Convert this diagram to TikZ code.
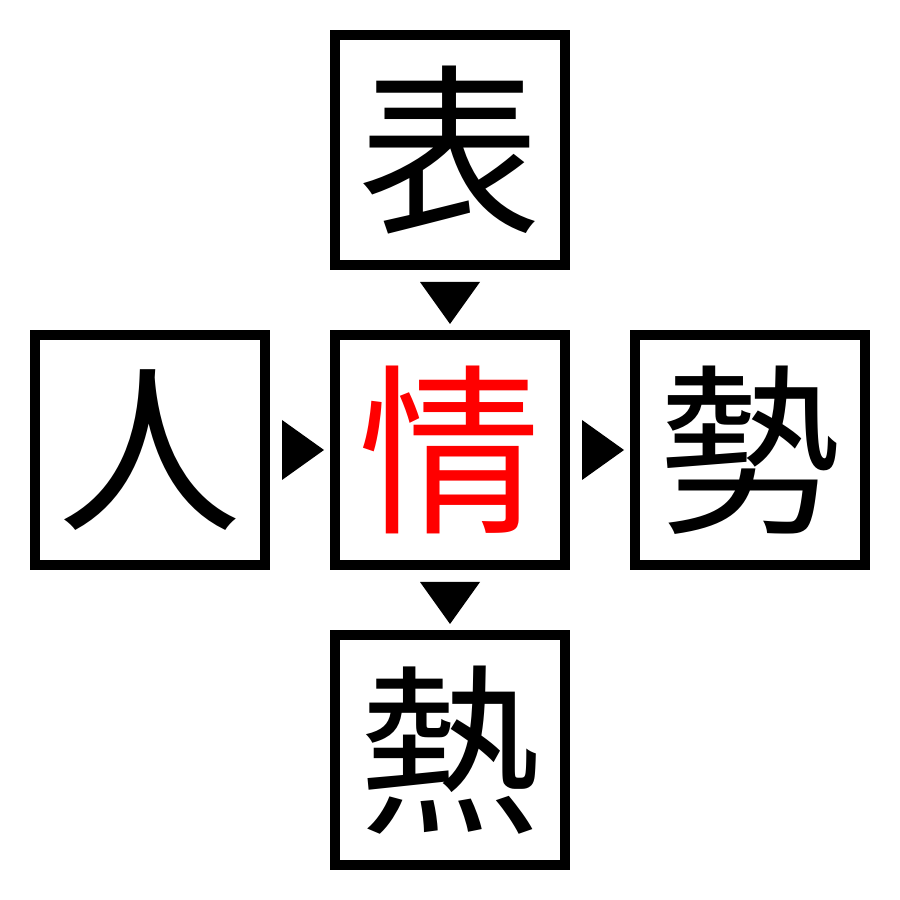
\documentclass[tikz,border=0pt]{standalone}
\usepackage{fontspec}
\usepackage{xcolor}
\usepackage{tikz}
\usetikzlibrary{positioning}
\newfontfamily\cjk{Noto Sans CJK JP}

\tikzset{
  kanji/.style={draw, line width=1mm, minimum size=2.3cm, inner sep=0pt,
    font=\cjk\fontsize{52}{52}\selectfont},
}

\begin{document}
\begin{tikzpicture}[node distance=0.6cm]
\useasboundingbox (0,0) rectangle (9,9);
\node[kanji, text=red] (jou) at (4.5,4.5) {情};
\node[kanji, above=of jou] (hyou) {表};
\node[kanji, left=of jou] (nin) {人};
\node[kanji, right=of jou] (sei) {勢};
\node[kanji, below=of jou] (netsu) {熱};

% triangles
\fill ([yshift=-1.2mm]hyou.south) ++(-3mm,0) -- ++(6mm,0) -- ++(-3mm,-4.2mm) -- cycle;
\fill ([xshift=1.2mm]nin.east) ++(0,3mm) -- ++(0,-6mm) -- ++(4.2mm,3mm) -- cycle;
\fill ([xshift=1.2mm]jou.east) ++(0,3mm) -- ++(0,-6mm) -- ++(4.2mm,3mm) -- cycle;
\fill ([yshift=-1.2mm]jou.south) ++(-3mm,0) -- ++(6mm,0) -- ++(-3mm,-4.2mm) -- cycle;

\end{tikzpicture}
\end{document}
